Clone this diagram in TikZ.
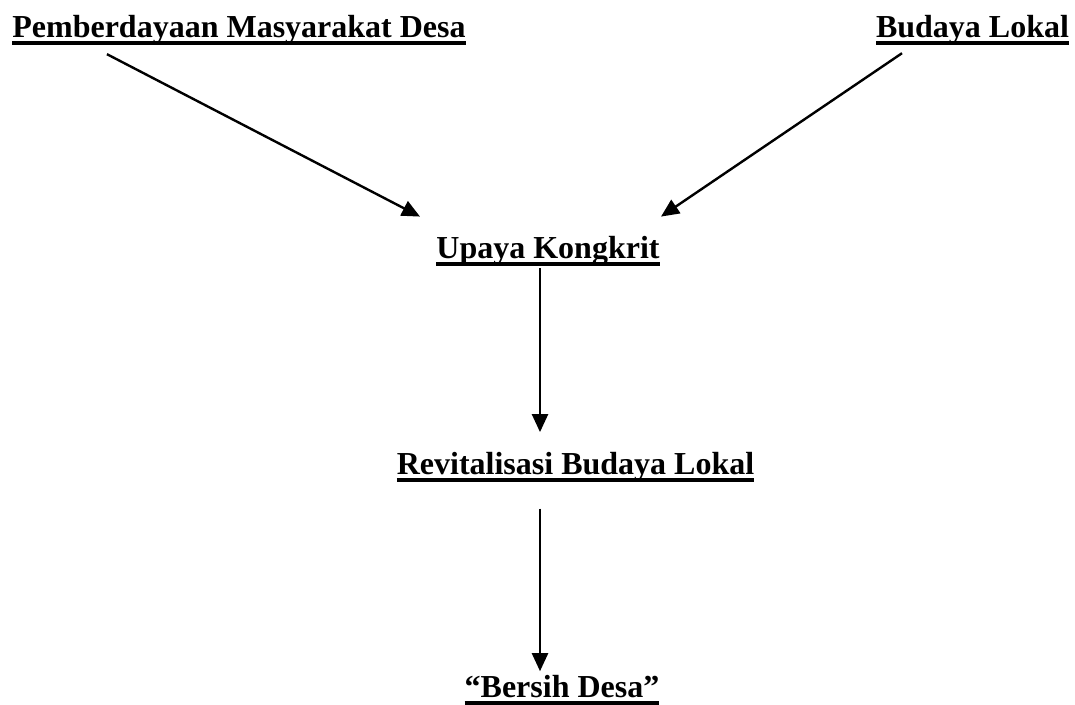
\documentclass[tikz,border=0pt]{standalone}
\usepackage{fontspec}
\setmainfont{Liberation Serif}
\usetikzlibrary{arrows.meta}
\newsavebox{\ulbox}
\newcommand{\ulbf}[1]{\sbox{\ulbox}{\bfseries #1}\rlap{\raisebox{-7.5pt}{\rule{\wd\ulbox}{3.8pt}}}\usebox{\ulbox}}
\begin{document}
\begin{tikzpicture}[x=1pt,y=-1pt,
  every node/.style={inner sep=0pt,anchor=base,font=\fontsize{32}{38}\selectfont},
  >={Triangle[length=18pt,width=16pt]},line width=2.4pt]
\useasboundingbox (0,0) rectangle (1075,704);
\node (pmd) at (239,37) {\ulbf{Pemberdayaan Masyarakat Desa}};
\node (bl) at (972.5,37) {\ulbf{Budaya Lokal}};
\node (uk) at (548,258) {\ulbf{Upaya Kongkrit}};
\node (rbl) at (575.5,474.5) {\ulbf{Revitalisasi Budaya Lokal}};
\node (bd) at (562,697) {\ulbf{``Bersih Desa''}};
\draw[->] ([xshift=-132pt,yshift=-8.5pt]pmd.south) to ([xshift=-128pt,yshift=18pt]uk.north);
\draw[->] ([xshift=-70.5pt,yshift=-7.5pt]bl.south) to ([xshift=113pt,yshift=18pt]uk.north);
\draw[->] ([xshift=-8pt,yshift=-1.5pt]uk.south) to ([xshift=-35.5pt,yshift=19pt]rbl.north);
\draw[->] ([xshift=-35.5pt,yshift=-25.5pt]rbl.south) to ([xshift=-22pt,yshift=2.4pt]bd.north);
\end{tikzpicture}
\end{document}
